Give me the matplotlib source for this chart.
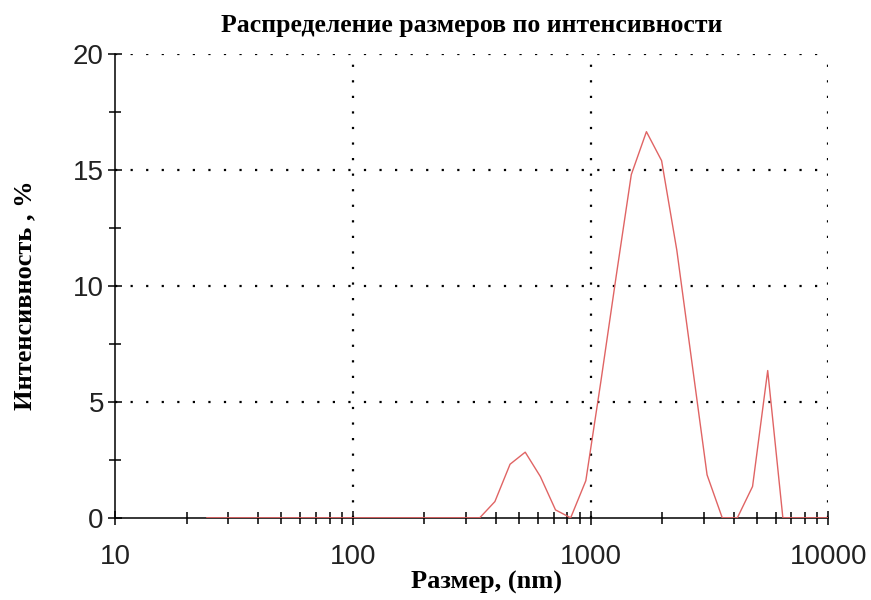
import matplotlib.pyplot as plt
from matplotlib.ticker import FixedLocator, NullFormatter

# Size bins (nm) and intensity (%)
size_nm = [24.36, 28.21, 32.67, 37.84, 43.82, 50.75, 58.77, 68.06, 78.82, 91.28,
           105.7, 122.4, 141.8, 164.2, 190.1, 220.2, 255.0, 295.3, 342.0, 396.1,
           458.7, 531.2, 615.1, 712.4, 825.0, 955.4, 1106, 1281, 1484, 1718,
           1990, 2305, 2669, 3091, 3580, 4145, 4801, 5560, 6439, 7456,
           8635, 10000]
intensity = [0, 0, 0, 0, 0, 0, 0, 0, 0, 0,
             0, 0, 0, 0, 0, 0, 0, 0, 0, 0.70,
             2.31, 2.83, 1.78, 0.34, 0, 1.6, 5.9, 10.4, 14.8, 16.65,
             15.4, 11.55, 6.7, 1.85, 0, 0, 1.35, 6.35, 0, 0,
             0, 0]

x_major = [10, 100, 1000, 10000]
x_labels = ["10", "100", "1000", "10000"]
y_major = [0, 5, 10, 15, 20]
y_minor = [2.5, 7.5, 12.5, 17.5]
x_minor = [m * d for d in (10, 100, 1000) for m in range(2, 10)]

fig = plt.figure(figsize=(8.71, 6), dpi=100)
ax = fig.add_axes([0.132, 0.137, 0.819, 0.773])

ax.plot(size_nm, intensity, color="#e06464", lw=1.0, zorder=3)

ax.set_xscale("log")
ax.set_xlim(10, 10000)
ax.set_ylim(0, 20)

ax.xaxis.set_major_locator(FixedLocator(x_major))
ax.set_xticklabels(x_labels)
ax.xaxis.set_minor_locator(FixedLocator(x_minor))
ax.xaxis.set_minor_formatter(NullFormatter())
ax.yaxis.set_major_locator(FixedLocator(y_major))
ax.yaxis.set_minor_locator(FixedLocator(y_minor))

# dotted grid at major ticks (also forms the top/right border)
for xv in x_major[1:]:
    ax.axvline(xv, color="black", lw=1.6, ls=(0, (1, 6)), zorder=1)
for yv in y_major[1:]:
    ax.axhline(yv, color="black", lw=1.6, ls=(0, (1, 6)), zorder=1)

ax.spines["top"].set_visible(False)
ax.spines["right"].set_visible(False)
ax.spines["left"].set_linewidth(1.1)
ax.spines["bottom"].set_linewidth(1.1)

ax.tick_params(axis="both", which="both", direction="inout", color="black", width=1.1)
ax.tick_params(axis="both", which="major", length=10)
ax.tick_params(axis="both", which="minor", length=9)
ax.tick_params(axis="x", which="major", pad=14, labelsize=20)
ax.tick_params(axis="y", which="major", pad=3, labelsize=20)
for lab in ax.get_xticklabels() + ax.get_yticklabels():
    lab.set_family("Liberation Sans")
    lab.set_color("#222222")

serif = dict(family="Liberation Serif", fontweight="bold")
fig.text(0.541, 0.957, "Распределение размеров по интенсивности",
         ha="center", va="center", fontsize=18.5, **serif)
fig.text(0.029, 0.508, "Интенсивность , %", rotation=90,
         ha="center", va="center", fontsize=19, **serif)
fig.text(0.558, 0.03, "Размер, (nm)", ha="center", va="center",
         fontsize=19, **serif)

fig.savefig("out.png", dpi=100)
